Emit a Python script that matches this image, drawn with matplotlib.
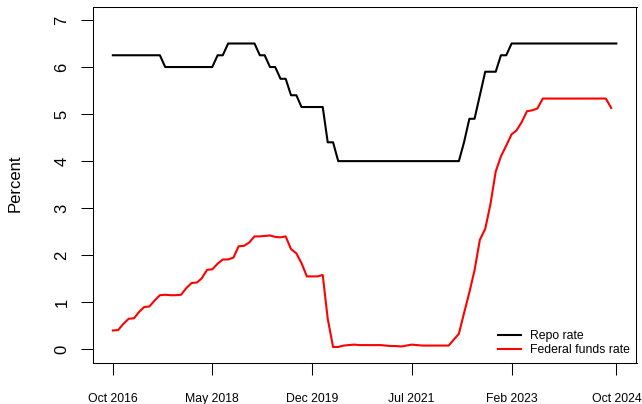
import matplotlib
matplotlib.use("Agg")
import matplotlib.pyplot as plt
import matplotlib.dates as mdates
import numpy as np
import pandas as pd

plt.rcParams['font.family'] = ['Liberation Sans', 'DejaVu Sans']

# Monthly data, Oct 2016 onwards
repo_start = "2016-10-01"
repo_rate = [
    6.25, 6.25, 6.25,                                              # Oct-Dec 2016
    6.25, 6.25, 6.25, 6.25, 6.25, 6.25, 6.25, 6.00, 6.00, 6.00, 6.00, 6.00,  # 2017
    6.00, 6.00, 6.00, 6.00, 6.00, 6.25, 6.25, 6.50, 6.50, 6.50, 6.50, 6.50,  # 2018
    6.50, 6.25, 6.25, 6.00, 6.00, 5.75, 5.75, 5.40, 5.40, 5.15, 5.15, 5.15,  # 2019
    5.15, 5.15, 4.40, 4.40, 4.00, 4.00, 4.00, 4.00, 4.00, 4.00, 4.00, 4.00,  # 2020
    4.00, 4.00, 4.00, 4.00, 4.00, 4.00, 4.00, 4.00, 4.00, 4.00, 4.00, 4.00,  # 2021
    4.00, 4.00, 4.00, 4.00, 4.40, 4.90, 4.90, 5.40, 5.90, 5.90, 5.90, 6.25,  # 2022
    6.25, 6.50, 6.50, 6.50, 6.50, 6.50, 6.50, 6.50, 6.50, 6.50, 6.50, 6.50,  # 2023
    6.50, 6.50, 6.50, 6.50, 6.50, 6.50, 6.50, 6.50, 6.50, 6.50,              # Jan-Oct 2024
]
fed_funds = [
    0.40, 0.41, 0.54,                                              # Oct-Dec 2016
    0.65, 0.66, 0.79, 0.90, 0.91, 1.04, 1.15, 1.16, 1.15, 1.15, 1.16, 1.30,  # 2017
    1.41, 1.42, 1.51, 1.69, 1.70, 1.82, 1.91, 1.91, 1.95, 2.19, 2.20, 2.27,  # 2018
    2.40, 2.40, 2.41, 2.42, 2.39, 2.38, 2.40, 2.13, 2.04, 1.83, 1.55, 1.55,  # 2019
    1.55, 1.58, 0.65, 0.05, 0.05, 0.08, 0.09, 0.10, 0.09, 0.09, 0.09, 0.09,  # 2020
    0.09, 0.08, 0.07, 0.07, 0.06, 0.08, 0.10, 0.09, 0.08, 0.08, 0.08, 0.08,  # 2021
    0.08, 0.08, 0.20, 0.33, 0.77, 1.21, 1.68, 2.33, 2.56, 3.08, 3.78, 4.10,  # 2022
    4.33, 4.57, 4.65, 4.83, 5.06, 5.08, 5.12, 5.33, 5.33, 5.33, 5.33, 5.33,  # 2023
    5.33, 5.33, 5.33, 5.33, 5.33, 5.33, 5.33, 5.33, 5.13,                    # Jan-Sep 2024
]
series_labels = ["Repo rate", "Federal funds rate"]
tick_dates = ["2016-10-01", "2018-05-01", "2019-12-01", "2021-07-01", "2023-02-01", "2024-10-01"]
tick_labels = ["Oct 2016", "May 2018", "Dec 2019", "Jul 2021", "Feb 2023", "Oct 2024"]
y_ticks = [0, 1, 2, 3, 4, 5, 6, 7]

repo_dates = pd.date_range(repo_start, periods=len(repo_rate), freq="MS")
ff_dates = pd.date_range(repo_start, periods=len(fed_funds), freq="MS")

W, H = 642, 404
fig = plt.figure(figsize=(W / 100, H / 100), dpi=100)
left, right, top, bottom = 92.7, 636.5, 6.8, 362.5
ax = fig.add_axes([left / W, 1 - bottom / H, (right - left) / W, (bottom - top) / H])

ax.plot(repo_dates, repo_rate, color="black", lw=1.5, label=series_labels[0])
ax.plot(ff_dates, fed_funds, color="#FF0000", lw=1.5, label=series_labels[1])

# R-style 4% axis extension
x0 = mdates.date2num(repo_dates[0]); x1 = mdates.date2num(repo_dates[-1])
dx = (x1 - x0) * 0.04
ax.set_xlim(x0 - dx, x1 + dx)
ax.set_ylim(-0.28, 7.28)

ax.set_xticks(mdates.date2num(pd.to_datetime(tick_dates)))
ax.set_xticklabels(tick_labels, fontsize=8.8)
ax.set_yticks(y_ticks)
ax.set_yticklabels([str(v) for v in y_ticks], fontsize=12, rotation=90, va="center")

ax.tick_params(axis="x", length=8.3, width=0.75, pad=13.6, direction="out")
ax.tick_params(axis="y", length=8.3, width=0.75, pad=8.5, direction="out")
for s in ax.spines.values():
    s.set_linewidth(0.75)

fig.text(15 / W, 1 - 183.5 / H, "Percent", rotation=90, ha="center", va="center", fontsize=12)

ax.legend(loc="lower left", bbox_to_anchor=(498 / W, 1 - 356 / H), bbox_transform=fig.transFigure,
          frameon=False, fontsize=8.8, handlelength=1.9, handletextpad=0.75,
          labelspacing=0.15, borderpad=0, borderaxespad=0)

fig.savefig("out.png", dpi=100)
